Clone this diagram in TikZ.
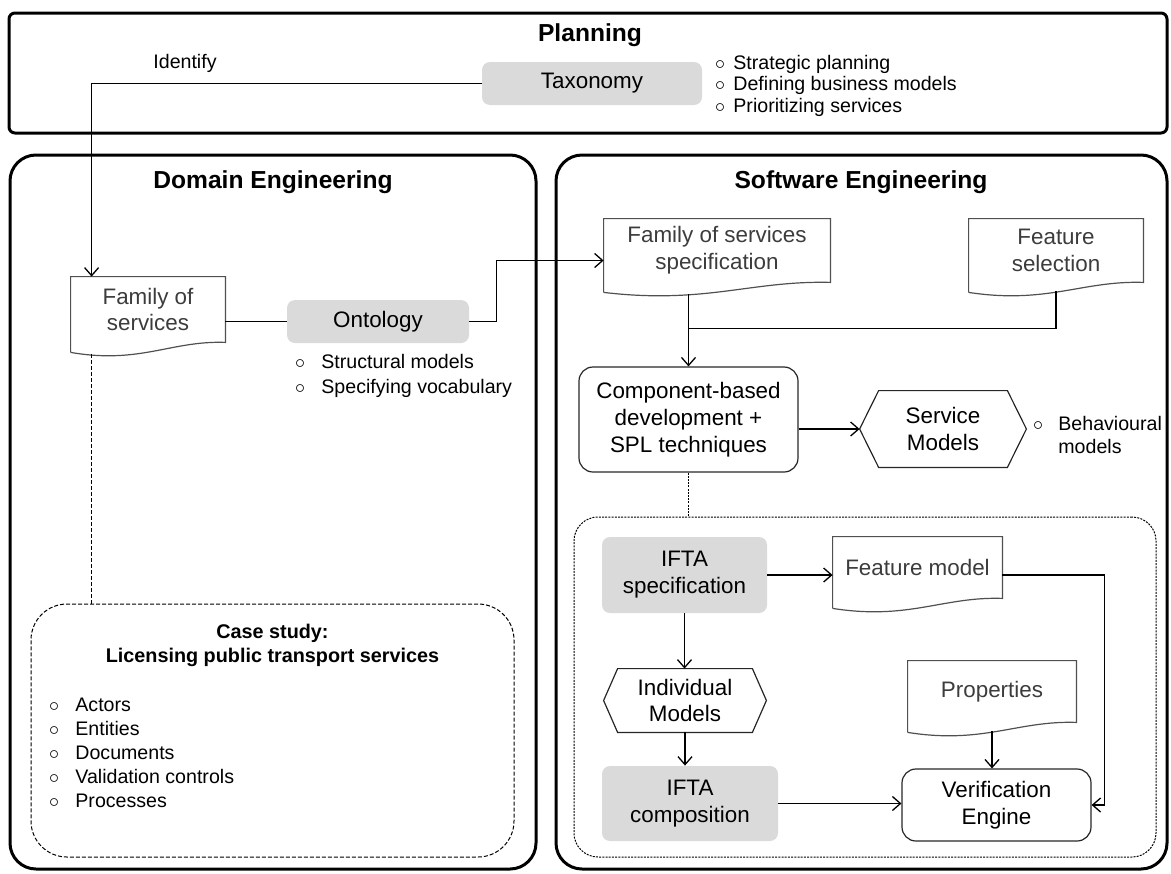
\documentclass[tikz,border=0pt]{standalone}
\usepackage{fontspec}
\setmainfont{Liberation Sans}
\usetikzlibrary{calc,positioning,arrows.meta}

\definecolor{boxgray}{RGB}{218,218,218}
\definecolor{doctext}{RGB}{60,60,60}
\definecolor{docgray}{RGB}{80,80,80}

\newcommand{\boxfont}{\fontsize{11.2}{13.4}\selectfont}
\newcommand{\listfont}{\fontsize{9.8}{12}\selectfont}
\newcommand{\titlefont}{\fontsize{12.3}{14}\selectfont\bfseries}
\newcommand{\casefont}{\fontsize{9.9}{12}\selectfont\bfseries}

% document shape: straight top and sides, wavy bottom edge
\newcommand{\docoutline}[1]{%
  \draw[docline] ($(#1.south west)+(0,10)$) -- (#1.north west) -- (#1.north east) -- (#1.south east)
    .. controls ($(#1.south east)!0.35!(#1.south west)+(0,-2)$)
       and ($(#1.south east)!0.55!(#1.south west)+(0,22)$) .. ($(#1.south west)+(0,10)$);}

% hexagon shape: pointed left and right ends
\newcommand{\hexoutline}[2]{%
  \draw[hexline] (#1.west) -- ($(#1.north west)+(#2,0)$) -- ($(#1.north east)+(-#2,0)$)
    -- (#1.east) -- ($(#1.south east)+(-#2,0)$) -- ($(#1.south west)+(#2,0)$) -- cycle;}

\begin{document}
\begin{tikzpicture}[x=0.5pt,y=-0.5pt,
    boxsize/.style 2 args={minimum width=#1*0.5pt, minimum height=#2*0.5pt},
    bigbox/.style={draw, line width=1.5pt, rounded corners=13pt},
    planbox/.style={draw, line width=1.5pt, rounded corners=3pt},
    headline/.style={font=\titlefont},
    graybox/.style={fill=boxgray, rounded corners=4pt, inner sep=0pt, align=center, font=\boxfont},
    whitebox/.style={draw=black!85, line width=0.6pt, rounded corners=7pt, inner sep=0pt, align=center, font=\boxfont},
    docbox/.style={inner sep=0pt, align=center, font=\boxfont, text=doctext},
    hexbox/.style={inner sep=0pt, align=center, font=\boxfont},
    docline/.style={draw=docgray, line width=0.6pt},
    hexline/.style={draw=black!85, line width=0.6pt},
    bulletmark/.style={anchor=base, inner sep=0pt, font=\listfont},
    listtext/.style={anchor=base west, inner sep=0pt, font=\listfont},
    conn/.style={line width=0.65pt},
    arr/.style={conn, -{Straight Barb[length=4pt,width=7pt]}},
    dashline/.style={line width=0.5pt, dash pattern=on 2pt off 1pt},
    dotline/.style={line width=0.5pt, dash pattern=on 1pt off 0.6pt},
    casebox/.style={draw, dashline, rounded corners=18pt, inner sep=0pt},
    sebox/.style={draw, dotline, rounded corners=12pt, inner sep=0pt}
]
\useasboundingbox (0,0) rectangle (1171,873);

% === PLANNING ===
\draw[planbox] (9,13) rectangle (1167,133);
\node[headline] (plantitle) at (590,35) {Planning};
\node[font=\listfont] (identify) at (185,63) {Identify};
\node[graybox, boxsize={220}{43}] (taxonomy) at (592,83.5) {Taxonomy};
\foreach \entry [count=\i] in {Strategic planning, Defining business models, Prioritizing services} {
    \node[bulletmark] (taxb\i) at (720,47.5+21.5*\i) {$\circ$};
    \node[listtext] (taxi\i) at (733,47.5+21.5*\i) {\entry};
}

% === DOMAIN ENGINEERING ===
\draw[bigbox] (10,155) rectangle (536,869);
\node[headline] (domtitle) at (273,182) {Domain Engineering};

\node[docbox, boxsize={154}{65}] (fam) at (148,309.5) {Family of\\services};
\docoutline{fam}
\node[graybox, boxsize={182}{43}] (ontology) at (378,321.5) {Ontology};
\foreach \entry [count=\i] in {Structural models, Specifying vocabulary} {
    \node[bulletmark] (ontb\i) at (300,343+25*\i) {$\circ$};
    \node[listtext] (onti\i) at (321,343+25*\i) {\entry};
}

% Case study
\node[casebox, boxsize={483}{253}] (casestudy) at (272.5,730.5) {};
\node[font=\casefont, align=center] (casetitle) at (272.5,645) {Case study:\\Licensing public transport services};
\foreach \entry [count=\i] in {Actors, Entities, Documents, Validation controls, Processes} {
    \node[bulletmark] (caseb\i) at (54,687+24*\i) {$\circ$};
    \node[listtext] (casei\i) at (75,687+24*\i) {\entry};
}

% === SOFTWARE ENGINEERING ===
\draw[bigbox] (556,155) rectangle (1167,869);
\node[headline] (swtitle) at (861,182) {Software Engineering};

\node[docbox, boxsize={226}{63}] (spec) at (717,250.5) {Family of services\\specification};
\docoutline{spec}
\node[docbox, boxsize={174}{63}] (fsel) at (1056,250.5) {Feature\\selection};
\docoutline{fsel}
\node[whitebox, boxsize={219}{105}] (cbd) at (688.5,419.5) {Component-based\\development +\\SPL techniques};
\node[hexbox, boxsize={166}{76}] (service) at (943,429) {Service\\Models};
\hexoutline{service}{19}
\node[bulletmark] (behb) at (1038,430) {$\circ$};
\node[listtext] (behi1) at (1058,430) {Behavioural};
\node[listtext] (behi2) at (1058,453) {models};

% IFTA part
\node[sebox, boxsize={582}{340}] (iftapart) at (865,687) {};
\node[graybox, boxsize={165}{76}] (iftaspec) at (684.5,575) {IFTA\\specification};
\node[docbox, boxsize={169}{61}] (fmodel) at (917.5,567.5) {Feature model};
\docoutline{fmodel}
\node[hexbox, boxsize={162}{63}] (indiv) at (685,700.5) {Individual\\Models};
\hexoutline{indiv}{14}
\node[graybox, boxsize={176}{75}] (iftacomp) at (690,803.5) {IFTA\\composition};
\node[docbox, boxsize={168}{61}] (props) at (992,691.5) {Properties};
\docoutline{props}
\node[whitebox, boxsize={189}{72}] (verif) at (996.5,805) {Verification\\Engine};

% === CONNECTORS ===
\coordinate (famin) at ($(fam.north west)+(21,0)$);
\coordinate (join) at ($(cbd.north)+(0,-38)$);
\draw[arr] (taxonomy.west) -| (famin);
\draw[conn] (fam.east |- ontology.west) -- (ontology.west);
\draw[arr] (ontology.east) -- ++(27,0) |- ($(spec.west)+(0,10)$);
\draw[dashline] ($(famin |- fam.south)+(0,12)$) -- (famin |- casestudy.north);

\draw[arr] ($(cbd.north |- spec.south)+(0,12)$) -- (cbd.north);
\draw[conn] ($(fsel.south)+(0,9)$) |- (join);
\draw[arr] (cbd.east |- service.west) -- (service.west);
\draw[dotline] (cbd.south) -- (cbd.south |- iftapart.north);

\draw[arr] (iftaspec.east) -- (iftaspec.east -| fmodel.west);
\draw[arr] (iftaspec.east -| fmodel.east) -- ++(102,0) |- (verif.east);
\draw[arr] (iftaspec.south) -- (iftaspec.south |- indiv.north);
\draw[arr] (indiv.south) -- (indiv.south |- iftacomp.north);
\draw[arr] (iftacomp.east) -- (iftacomp.east -| verif.west);
\draw[arr] ($(props.south)+(0,9)$) -- (props.south |- verif.north);

\end{tikzpicture}
\end{document}
